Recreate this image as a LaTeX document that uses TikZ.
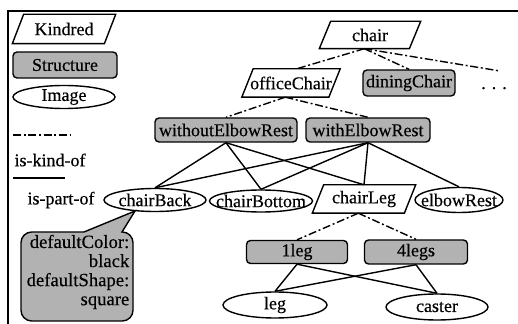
\documentclass[tikz,border=0pt]{standalone}
\usepackage{fontspec}
\setmainfont{Liberation Serif}[FakeBold=0.35]
\usetikzlibrary{shapes.geometric}
\newcommand\zt[1]{\makebox[0pt]{#1}}
\newcommand\para[1]{\draw (#1.south west) -- ([xshift=-8.5pt]#1.south east) -- (#1.north east) -- ([xshift=8.5pt]#1.north west) -- cycle;}
\begin{document}
\begin{tikzpicture}[x=0.75pt,y=-0.75pt, line width=1.05pt,
  font=\fontsize{13.5}{15}\selectfont,
  sz/.style 2 args={minimum width=#1*0.75pt, minimum height=#2*0.75pt},
  kind/.style={inner sep=0pt},
  struct/.style={draw, rounded corners=3pt, fill=black!30, inner sep=0pt},
  img/.style={draw, ellipse, inner sep=0pt},
  kindof/.style={dash pattern=on 6pt off 2pt on 1.5pt off 2pt},
  frameline/.style={line width=1.1pt},
  lbl/.style={inner sep=0pt}
]
\useasboundingbox (0,0) rectangle (518,324);
% frame
\coordinate (fr1) at (518,11);
\coordinate (fr2) at (8,11);
\coordinate (fr3) at (8,324);
\draw[frameline] (fr1) -- (fr2) -- (fr3);

% legend
\node[kind, sz={102}{28}] (kindred) at (64,29) {\zt{Kindred}};
\para{kindred}
\node[struct, sz={104}{26}] (structure) at (65,65) {\zt{Structure}};
\node[img, sz={102}{23}] (image) at (64,97) {\zt{Image}};
\coordinate (kl1) at (13,135);
\coordinate (kl2) at (70,135);
\draw[kindof] (kl1) -- (kl2);
\node[lbl] (kindlbl) at (50,160) {is-kind-of};
\coordinate (pl1) at (13,178);
\coordinate (pl2) at (65,178);
\draw (pl1) -- (pl2);
\node[lbl] (partlbl) at (61,200) {is-part-of};

% nodes
\node[kind, sz={100}{26}] (chair) at (370,35) {\zt{chair}};
\para{chair}
\node[kind, sz={97}{27}] (office) at (291,83) {\zt{officeChair}};
\para{office}
\node[struct, sz={92}{26}] (dining) at (409,83) {\zt{diningChair}};
\node[lbl, anchor=base] (dots) at (494,89) {.\,\,.\,\,.};
\coordinate (etc) at (500,71);
\node[struct, sz={142}{24}] (without) at (226,130) {\zt{withoutElbowRest}};
\node[struct, sz={124}{24}] (with) at (368,130) {\zt{withElbowRest}};
\node[img, sz={102}{23}] (back) at (155,200) {\zt{chairBack}};
\node[img, sz={103}{22}] (bottom) at (261,201) {\zt{chairBottom}};
\node[kind, sz={102}{27}] (leg) at (364,199) {\zt{chairLeg}};
\para{leg}
\node[img, sz={88}{25}] (elbow) at (459,200) {\zt{elbowRest}};
\node[struct, sz={101}{23}] (oneleg) at (297,252) {\zt{1leg}};
\node[struct, sz={103}{24}] (fourlegs) at (416,252) {\zt{4legs}};
\node[img, sz={104}{26}] (legimg) at (275,305) {\zt{leg}};
\node[img, sz={102}{26}] (caster) at (437,307) {\zt{caster}};

% callout
\coordinate (tip) at (135,211);
\draw[fill=black!30] (tip) -- (122,232) [rounded corners=8pt] -- (133,232) -- (133,321) -- (21,321) -- (21,232) [sharp corners] -- (84,232) -- cycle;
\node[lbl, align=right, anchor=east, font=\fontsize{14}{14.3}\selectfont] (cbtext) at (130,272) {defaultColor:\\black\\defaultShape:\\square};

% is-kind-of
\draw[kindof] ([xshift=-4.25pt]chair.south) -- ([xshift=4.25pt]office.north);
\draw[kindof] ([xshift=-4.25pt]chair.south) -- (dining.north);
\draw[kindof] ([xshift=-4.25pt]chair.south) -- (etc);
\draw[kindof] ([xshift=-4.25pt]office.south) -- (without.north);
\draw[kindof] ([xshift=-4.25pt]office.south) -- (with.north);
\draw[kindof] ([xshift=-4.25pt]leg.south) -- (oneleg.north);
\draw[kindof] ([xshift=-4.25pt]leg.south) -- (fourlegs.north);

% is-part-of
\draw (without.south) -- (back.north);
\draw (without.south) -- (bottom.north);
\draw (without.south) -- (leg.north);
\draw (with.south) -- (back.north);
\draw (with.south) -- (bottom.north);
\draw (with.south) -- (leg.north);
\draw (with.south) -- (elbow.north);
\draw (oneleg.south) -- (legimg.north);
\draw (oneleg.south) -- (caster.north);
\draw (fourlegs.south) -- (legimg.north);
\draw (fourlegs.south) -- (caster.north);
\end{tikzpicture}
\end{document}
